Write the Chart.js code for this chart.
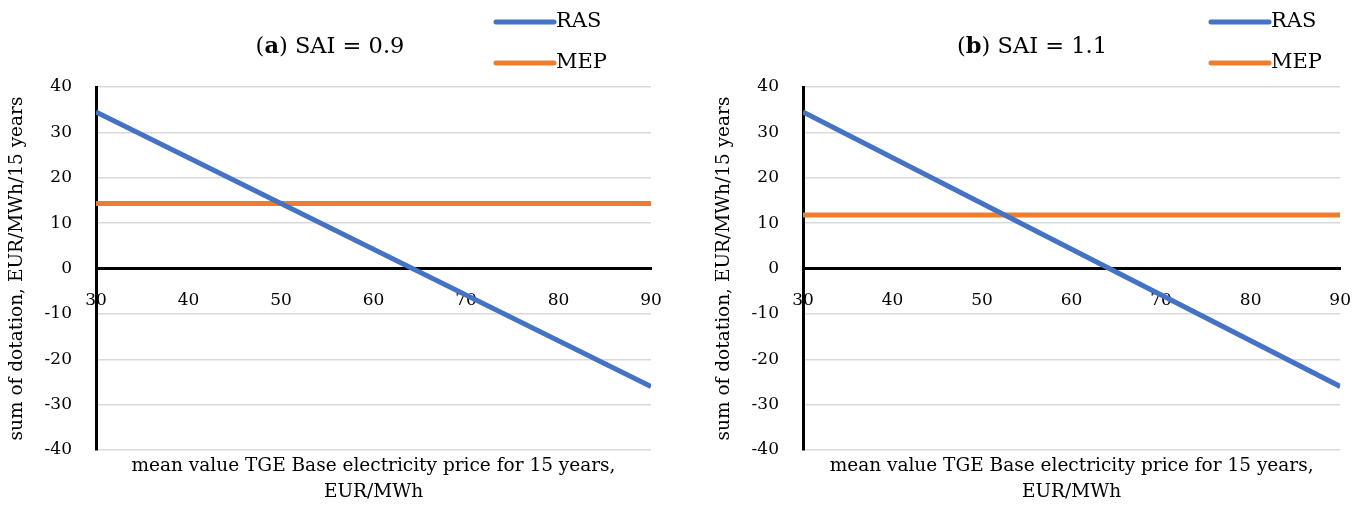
<!DOCTYPE html>
<html>
<head>
<meta charset="utf-8">
<script src="https://cdn.jsdelivr.net/npm/chart.js@4"></script>
<style>
    html, body { margin: 0; padding: 0; background: #fff; }
    .panel { position: absolute; top: 0; height: 505px; }
    #panelA { left: 0; width: 680px; }
    #panelB { left: 680px; width: 685px; }
</style>
</head>
<body>
<div class="panel" id="panelA"><canvas id="chartA"></canvas></div>
<div class="panel" id="panelB"><canvas id="chartB"></canvas></div>
<script>
/* ---------- Data ---------- */
const priceRange = [30, 90];          // mean TGE Base price, EUR/MWh
const rasA = [34.5, -26.0];           // SAI = 0.9
const mepA = [14.3, 14.3];
const rasB = [34.5, -26.0];           // SAI = 1.1
const mepB = [11.8, 11.8];
const yMin = -40, yMax = 40, yStep = 10;
const xMin = 30, xMax = 90, xStep = 10;

const FONT = "'DejaVu Serif', 'Liberation Serif', serif";
const BLUE = '#4472C4';
const ORANGE = '#ED7D31';

function points(xs, ys) {
    return xs.map((x, i) => ({ x: x, y: ys[i] }));
}

/* ---------- Title + legend drawn on canvas ---------- */
const panelDecor = {
    id: 'panelDecor',
    afterDraw(chart, args, opts) {
        const ctx = chart.ctx;
        ctx.save();
        ctx.fillStyle = '#000';
        ctx.textBaseline = 'middle';

        // title: "(" bold letter ") SAI = x"
        const parts = [
            { t: '(', b: false },
            { t: opts.letter, b: true },
            { t: ') ' + opts.title, b: false }
        ];
        let total = 0;
        parts.forEach(p => {
            ctx.font = (p.b ? 'bold ' : '') + opts.titleSize + 'px ' + FONT;
            p.w = ctx.measureText(p.t).width;
            total += p.w;
        });
        let x = opts.titleX - total / 2;
        parts.forEach(p => {
            ctx.font = (p.b ? 'bold ' : '') + opts.titleSize + 'px ' + FONT;
            ctx.textAlign = 'left';
            ctx.fillText(p.t, x, opts.titleY);
            x += p.w;
        });

        // legend, one row per dataset
        ctx.font = opts.legendSize + 'px ' + FONT;
        chart.data.datasets.forEach((ds, i) => {
            const y = opts.legendY + i * opts.legendGap;
            ctx.strokeStyle = ds.borderColor;
            ctx.lineWidth = 5;
            ctx.lineCap = 'round';
            ctx.beginPath();
            ctx.moveTo(opts.legendX, y);
            ctx.lineTo(opts.legendX + opts.legendLen, y);
            ctx.stroke();
            ctx.fillText(ds.label, opts.legendX + opts.legendLen + 2, y);
        });
        ctx.restore();
    }
};

function makeChart(id, ras, mep, decor, axisX, padLeft, padRight) {
    const ctx = document.getElementById(id).getContext('2d');
    return new Chart(ctx, {
        type: 'line',
        data: {
            datasets: [
                { label: 'RAS', data: points(priceRange, ras), borderColor: BLUE, borderWidth: 5, pointRadius: 0, fill: false },
                { label: 'MEP', data: points(priceRange, mep), borderColor: ORANGE, borderWidth: 5, pointRadius: 0, fill: false }
            ]
        },
        options: {
            responsive: true,
            maintainAspectRatio: false,
            animation: false,
            layout: { padding: { left: padLeft, right: padRight, top: 87, bottom: 0 } },
            plugins: {
                legend: { display: false },
                tooltip: { enabled: false },
                panelDecor: decor
            },
            scales: {
                x: {
                    type: 'linear',
                    min: xMin, max: xMax,
                    position: { y: 0 },
                    grid: { display: false },
                    border: { color: '#000', width: 3 },
                    ticks: { stepSize: xStep, padding: 14, color: '#000', font: { family: FONT, size: 17 } }
                },
                xTitle: {
                    type: 'linear',
                    position: 'bottom',
                    grid: { display: false },
                    border: { display: false },
                    ticks: { display: false },
                    title: {
                        display: true,
                        text: ['mean value TGE Base electricity price for 15 years,', 'EUR/MWh'],
                        color: '#000',
                        font: { family: FONT, size: 18.5, lineHeight: 1.4 },
                        padding: 0
                    },
                    afterFit(scale) { scale.height = 55; }
                },
                y: {
                    min: yMin, max: yMax,
                    grid: { color: '#d9d9d9', lineWidth: 1.5, drawTicks: false },
                    border: { color: '#000', width: 3 },
                    ticks: { stepSize: yStep, padding: 24, color: '#000', font: { family: FONT, size: 17 } },
                    title: {
                        display: true,
                        text: 'sum of dotation, EUR/MWh/15 years',
                        color: '#000',
                        font: { family: FONT, size: 18.5 },
                        padding: 0
                    },
                    afterFit(scale) { scale.width = axisX - padLeft; }
                }
            }
        },
        plugins: [panelDecor]
    });
}

makeChart('chartA', rasA, mepA, {
    letter: 'a', title: 'SAI = 0.9', titleX: 330, titleY: 47, titleSize: 22.5,
    legendX: 496, legendY: 22, legendGap: 41, legendLen: 58, legendSize: 21
}, 96, 6, 29);

makeChart('chartB', rasB, mepB, {
    letter: 'b', title: 'SAI = 1.1', titleX: 352, titleY: 47, titleSize: 22.5,
    legendX: 531, legendY: 22, legendGap: 41, legendLen: 58, legendSize: 21
}, 123, 33, 23);
</script>
</body>
</html>
